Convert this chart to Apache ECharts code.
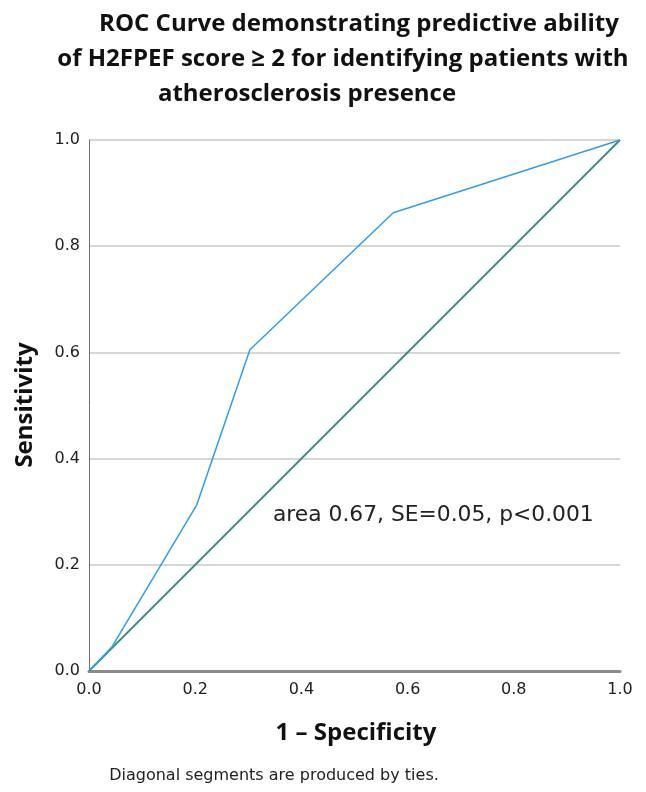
<!DOCTYPE html>
<html><head><meta charset="utf-8">
<script src="https://cdn.jsdelivr.net/npm/echarts@6/dist/echarts.min.js"></script>
<style>html,body{margin:0;padding:0;background:#fff}#c{width:646px;height:792px}</style>
</head><body><div id="c"></div>
<script>
const titleLines = ["ROC Curve demonstrating predictive ability", "of H2FPEF score \u2265 2 for identifying patients with", "atherosclerosis presence"];
const rocX = [0.0, 0.043, 0.203, 0.303, 0.573, 1.0];
const rocY = [0.0, 0.045, 0.313, 0.605, 0.863, 1.0];
const refX = [0.0, 1.0];
const refY = [0.0, 1.0];
const tickValues = [0.0, 0.2, 0.4, 0.6, 0.8, 1.0];
const annotation = "area 0.67, SE=0.05, p<0.001";
const xName = "1 \u2013 Specificity";
const yName = "Sensitivity";
const footnote = "Diagonal segments are produced by ties.";

const chart = echarts.init(document.getElementById('c'), null, {renderer: 'canvas'});
const titleFont = {fontFamily: 'Open Sans', fontWeight: 'bold', fontSize: 24, fill: '#111'};
const titleCenters = [359, 343, 307];
const titleYs = [24, 59, 94];
const graphics = titleLines.map((t, i) => ({
  type: 'text', x: titleCenters[i], y: titleYs[i],
  style: Object.assign({text: t, textAlign: 'center', textVerticalAlign: 'middle'}, titleFont)
}));
graphics.push({type: 'text', x: 273, y: 515, style: {text: annotation, fontFamily: 'DejaVu Sans', fontSize: 21.8, fill: '#222', textVerticalAlign: 'middle'}});
graphics.push({type: 'text', x: 356, y: 733, style: {text: xName, fontFamily: 'Open Sans', fontWeight: 'bold', fontSize: 24, fill: '#111', textAlign: 'center', textVerticalAlign: 'middle'}});
graphics.push({type: 'text', x: 25, y: 405, rotation: Math.PI / 2, style: {text: yName, fontFamily: 'Open Sans', fontWeight: 'bold', fontSize: 24, fill: '#111', textAlign: 'center', textVerticalAlign: 'middle'}});
graphics.push({type: 'text', x: 274, y: 776, style: {text: footnote, fontFamily: 'DejaVu Sans', fontSize: 16, fill: '#222', textAlign: 'center', textVerticalAlign: 'middle'}});

const fmt = v => v.toFixed(1);
chart.setOption({
  animation: false,
  backgroundColor: '#fff',
  grid: {left: 89, right: 26, top: 140, bottom: 121, containLabel: false},
  xAxis: {
    type: 'value', min: 0, max: 1, interval: 0.2,
    axisLine: {show: true, onZero: false, lineStyle: {color: '#8c8c8c', width: 3}},
    axisTick: {show: false},
    splitLine: {show: false},
    axisLabel: {formatter: fmt, color: '#222', fontFamily: 'DejaVu Sans', fontSize: 16, margin: 11}
  },
  yAxis: {
    type: 'value', min: 0, max: 1, interval: 0.2,
    axisLine: {show: true, lineStyle: {color: '#6e6e6e', width: 1}},
    axisTick: {show: false},
    splitLine: {show: true, lineStyle: {color: '#c8c8c8', width: 1.5}},
    axisLabel: {formatter: fmt, color: '#222', fontFamily: 'DejaVu Sans', fontSize: 16, margin: 9}
  },
  series: [
    {type: 'line', data: refX.map((x, i) => [x, refY[i]]), symbol: 'none', lineStyle: {color: '#3a8883', width: 1.8}, z: 2},
    {type: 'line', data: rocX.map((x, i) => [x, rocY[i]]), symbol: 'none', lineStyle: {color: '#2f9ef0', width: 1.5}, z: 3}
  ],
  graphic: graphics
});
</script></body></html>
